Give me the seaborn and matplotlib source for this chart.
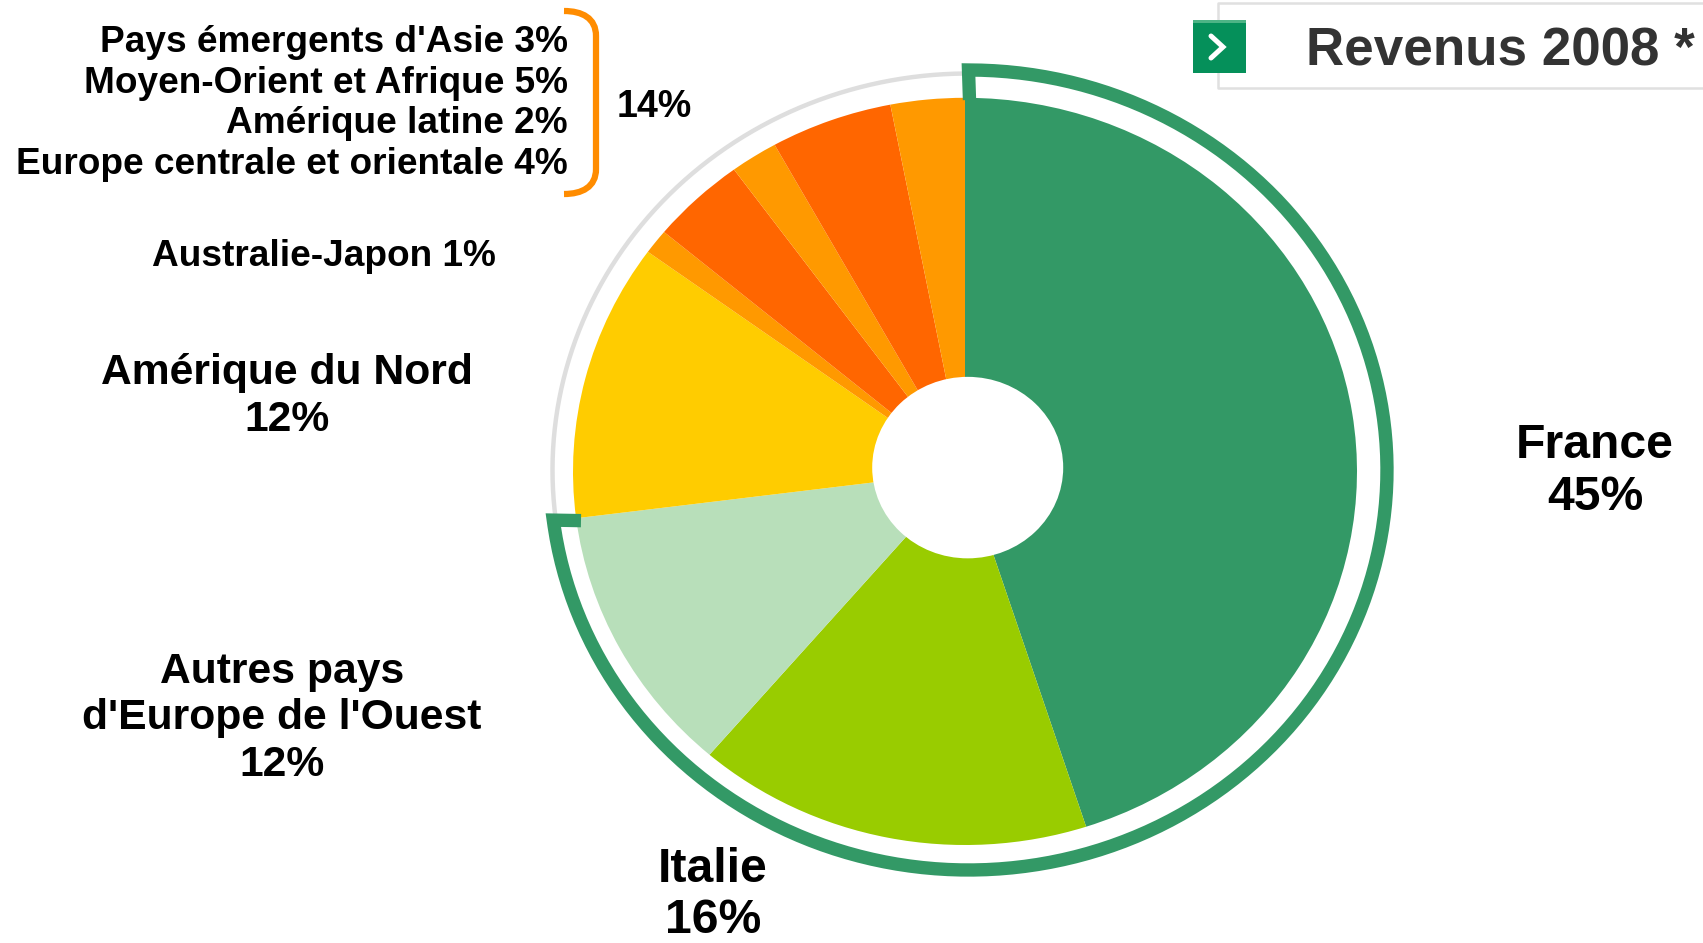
import numpy as np
import matplotlib
matplotlib.use("Agg")
import matplotlib.pyplot as plt
import seaborn as sns
from matplotlib.patches import Ellipse, PathPatch, Rectangle
from matplotlib.path import Path
from matplotlib.transforms import Affine2D

# ---- data ----
regions = ["France", "Italie", "Autres pays\nd'Europe de l'Ouest", "Amérique du Nord",
           "Australie-Japon", "Europe centrale et orientale", "Amérique latine",
           "Moyen-Orient et Afrique", "Pays émergents d'Asie"]
shares = [45, 16.3, 11.7, 12, 1.07, 3.9, 1.96, 5.02, 3.05]
slice_colors = ["#339966", "#99CC00", "#B8DFBA", "#FFCC00", "#FF9900",
                "#FF6600", "#FF9900", "#FF6600", "#FF9900"]
group_total = "14%"
chart_title = "Revenus 2008 *"

# ---- setup ----
sns.set_theme(style="white")
plt.rcParams["font.family"] = ["Liberation Sans", "DejaVu Sans"]
W, H = 1703, 943
fig = plt.figure(figsize=(W / 100, H / 100), dpi=100, facecolor="white")
ax = fig.add_axes([0, 0, 1, 1])
px = Affine2D().scale(1, -1).translate(0, H)   # top-left pixel coordinates

# pie: an ellipse, as in the reference
cx, cy, rx, ry = 965.0, 471.4, 392.0, 373.6
ax.pie(shares, colors=sns.color_palette(slice_colors), startangle=90, counterclock=False,
       wedgeprops=dict(linewidth=0))
ax.set_aspect("auto")
ax.set_xlim((0 - cx) / rx, (W - cx) / rx)
ax.set_ylim((cy - H) / ry, (cy - 0) / ry)
ax.add_patch(Ellipse((967.7, 467.6), 191, 181.5, transform=px, facecolor="white", edgecolor="none", zorder=5))

# rings
ring_cx, ring_cy, ring_rx, ring_ry = 968.5, 470.0, 418.5, 400.0
end_theta = np.deg2rad(sum(shares[:3]) / sum(shares) * 360)
t = np.linspace(0, end_theta, 300)
gx = ring_cx + ring_rx * np.sin(t)
gy = ring_cy - ring_ry * np.cos(t)
t2 = np.linspace(end_theta, 2 * np.pi, 200)
ax.plot(ring_cx + 416 * np.sin(t2), ring_cy - 396.5 * np.cos(t2), transform=px,
        color="#DEDEDE", lw=3.2, zorder=3, solid_capstyle="butt")
ax.plot(np.r_[gx[0] + 1, gx, 581], np.r_[100, gy, gy[-1] + 0.5], transform=px, color="#339966",
        lw=9.6, zorder=6, solid_joinstyle="miter", solid_capstyle="butt")

# bracket
verts = [(564, 11), (582, 11), (596, 18), (596, 36), (596, 169), (596, 187), (582, 194), (564, 194)]
codes = [Path.MOVETO, Path.CURVE4, Path.CURVE4, Path.CURVE4, Path.LINETO, Path.CURVE4, Path.CURVE4, Path.CURVE4]
ax.add_patch(PathPatch(Path(verts, codes), transform=px, facecolor="none", edgecolor="#FF8C00",
                       lw=4.5, capstyle="butt", zorder=4))

# title box
ax.plot([1703, 1218, 1218, 1703], [3, 3, 88, 88], transform=px, color="#E0E0E0", lw=1.8, zorder=2)
ax.add_patch(Rectangle((1192.5, 20), 53, 53, transform=px, facecolor="#05905A", edgecolor="none", zorder=4))
ax.add_patch(Rectangle((1192.5, 20), 53, 3, transform=px, facecolor="#4DB485", edgecolor="none", zorder=5))
ax.plot([1211, 1223, 1211], [36, 47, 58], transform=px, color="white", lw=3.6, zorder=6, solid_joinstyle="miter")
ax.text(1305.5, 65, chart_title, transform=px, fontsize=38.2, fontweight="bold", color="#333333",
        ha="left", va="baseline")

# labels
def big(i, x, y, size, spacing):
    ax.text(x, y, f"{regions[i]}\n{shares[i]:.0f}%", transform=px, fontsize=size, fontweight="bold",
            color="black", ha="center", va="center", multialignment="center", linespacing=spacing, zorder=7)

big(0, 1595, 471.5, 34.7, 1.18)
big(1, 713, 895, 34.7, 1.18)
big(2, 282, 718.5, 30.7, 1.2)
big(3, 287, 396.5, 30.7, 1.2)

for i, y in zip([8, 7, 6, 5], [52, 93, 133, 174]):
    ax.text(568, y, f"{regions[i]} {shares[i]:.0f}%", transform=px, fontsize=26.65, fontweight="bold",
            color="black", ha="right", va="baseline")
ax.text(617, 117, group_total, transform=px, fontsize=27, fontweight="bold", color="black", va="baseline")
ax.text(324, 266, f"{regions[4]} {shares[4]:.0f}%", transform=px, fontsize=26.65, fontweight="bold",
        color="black", ha="center", va="baseline")

fig.savefig("out.png", dpi=100, facecolor="white")
